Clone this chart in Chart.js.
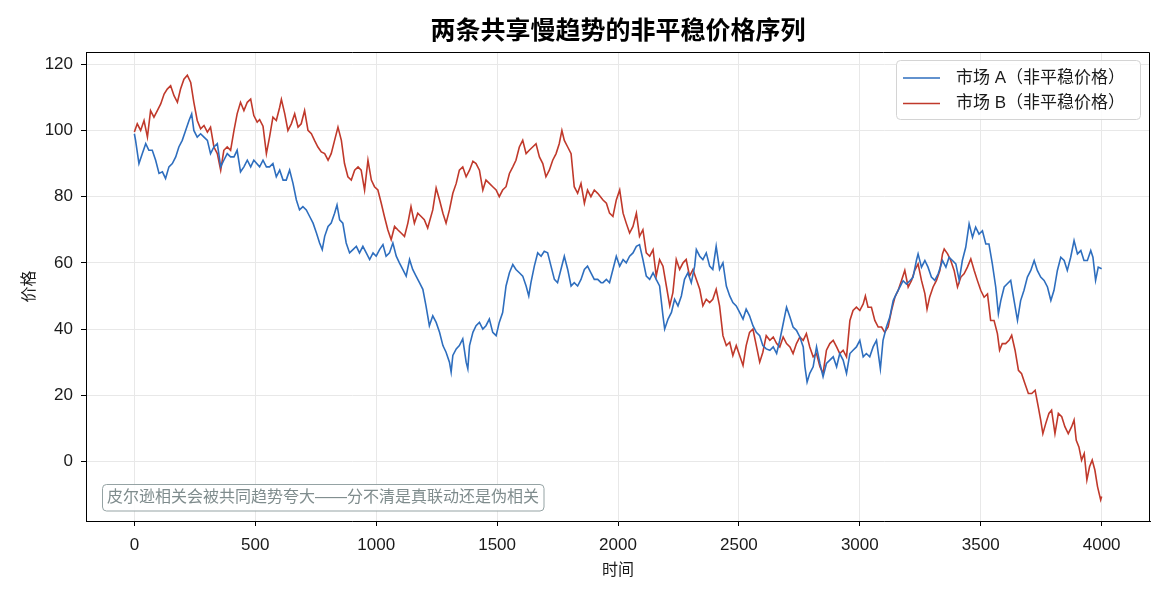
<!DOCTYPE html>
<html lang="zh">
<head>
<meta charset="UTF-8">
<title>两条共享慢趋势的非平稳价格序列</title>
<script src="https://cdn.jsdelivr.net/npm/chart.js"></script>
<style>
    body { margin: 0; background: #fff; }
    #chart { display: block; }
</style>
</head>
<body>
<canvas id="chart" width="1170" height="598"></canvas>
<script>
// 数值从原图读取（约每 14 个时间步一个点）
const timeA = [0,5,19,33,47,60,74,88,102,116,129,143,157,171,184,198,212,226,237,246,260,274,288,302,315,329,343,357,370,384,398,412,425,439,453,467,481,494,
    518,532,546,559,573,587,601,615,628,642,656,670,683,697,711,725,739,753,766,777,787,801,814,828,838,849,862,876,890,904,918,931,945,959,973,987,1000,1014,1028,1041,1055,1069,1083,1096,1110,1124,1138,1151,1165,1179,1193,1206,1220,
    1234,1248,1262,1276,1289,1303,1310,1317,1331,1344,1358,1372,1379,1386,1400,1413,1427,1441,1454,1468,1482,1496,1509,1523,1537,1551,1565,1578,1592,1606,1620,1631,1640,1654,1668,1682,1695,1709,1723,1737,1750,1764,1778,1792,1806,1819,1833,1847,1861,1874,1888,1902,1916,1930,
    1938,1952,1965,1979,1993,2007,2021,2034,2048,2062,2076,2089,2103,2117,2131,2145,2158,2172,2186,2193,2207,2221,2234,2248,2262,2275,2289,2303,2317,2324,2338,2351,2365,2379,2392,2406,2420,2434,2448,2462,2475,2489,2503,2517,2530,2544,2558,2572,2586,2599,2613,
    2628,2642,2656,2669,2683,2697,2711,2724,2738,2752,2766,2773,2782,2793,2807,2821,2835,2848,2862,2876,2890,2904,2917,2931,2945,2959,2972,2986,3000,3014,3027,3041,3055,3069,3085,3096,3110,3124,3138,3151,3165,3179,3193,3207,3220,3234,3241,3255,3269,3282,3296,3310,3324,
    3342,3356,3369,3383,3397,3411,3424,3438,3452,3466,3479,3493,3507,3521,3534,3548,3562,3573,3583,3597,3610,3624,3638,3652,3665,3679,3693,3707,3721,3734,3748,3762,3776,3790,3803,3817,3831,3845,3858,3872,3886,3900,3914,3927,3941,3955,3964,3975,3986,4000];
const priceA = [99,97,90,93,96,94,94,91,87,87.5,85.5,89,90,92,95,97,100,103,105,100,98,99,98,97,93,95,96,89,91,93,92,92,94,87.5,89,91,89,91,
    89,91,89,89,90,86,88,85,85,88,84,79,76,77,76,74,72,69,66,64,68,71,72,75,77.5,73,72,66,63,64,65,63,65,63,61,63,62,64,65.5,62,63,66,62,60,58,56,61,58,56,54,52,47,41,
    44,42,39,35,33,30,27,32,34,35,37,30,28,35,39,41,42,40,41,43,39,38,42,45,53,57,59.5,58,57,56,53,50,54,59,63,62,63.5,63,59,55,54,58,62,58,53,54,53,55,58,59,57,55,55,54,
    54,55,54,58,62,59,61,60,62,63,65,65.5,61,56,55,57,55,53,44,40,43,45,49,47,50,55,57,54,59,64,62,61,63,59,58,65,58,60,53,50,48,47,45,43,46,44,41,39,38,35,34,
    33.6,34.6,32.6,36.6,41.6,46.6,43.6,40.6,39.6,37.6,34.6,28.6,24,26.6,28.6,34.6,29.6,25.6,29.6,30.6,31.6,28.6,32.6,30.6,26.6,32.6,33.6,34.6,36.6,31.6,32.6,31.6,34.6,36.6,28,36.6,40.6,43.6,48.6,50.6,52.6,54.6,53.6,54.6,55.6,60.7,62.7,58.7,60.7,58.7,55.7,54.7,56.7,
    60.7,58.7,61.7,60.7,59.7,54.7,60.7,64.7,71.8,67.7,70.8,68.7,69.7,65.7,65.7,59.7,52.7,44.6,48.6,52.7,53.7,54.7,48.6,42.6,48.6,51.7,55.7,57.7,60.7,57.7,55.7,54.7,52.7,48.6,51.7,57.7,61.7,60.7,57.7,61.7,66.7,62.7,63.7,60.7,60.7,63.7,61.7,54.7,58.7,58.2];

const timeB = [0,12,26,40,54,67,81,95,109,123,136,150,164,178,191,205,219,233,246,260,274,288,302,315,329,343,357,370,384,398,412,425,439,453,467,481,494,508,
    518,532,546,559,573,587,601,608,622,635,649,663,677,690,704,718,732,745,759,773,787,801,814,828,842,856,869,883,897,911,925,938,952,966,980,993,1007,1021,1034,1048,1062,1076,1089,1103,1117,1131,1144,1158,1172,1186,1199,1213,
    1234,1248,1262,1276,1289,1303,1317,1331,1344,1358,1372,1386,1400,1413,1427,1441,1454,1468,1482,1496,1509,1523,1537,1551,1565,1578,1592,1606,1620,1633,1647,1661,1675,1689,1702,1716,1730,1744,1757,1768,1778,1792,1806,1819,1833,1847,1861,1874,1888,1902,1916,
    1938,1952,1965,1979,1993,2007,2021,2034,2048,2062,2076,2089,2103,2117,2131,2145,2158,2172,2186,2200,2214,2227,2241,2255,2269,2282,2296,2310,2324,2338,2351,2365,2379,2392,2406,2420,2434,2448,2462,2475,2489,2503,2517,2530,2544,2558,2572,2586,2599,2613,
    2628,2642,2656,2669,2683,2697,2711,2724,2738,2752,2766,2779,2793,2807,2821,2835,2848,2862,2876,2890,2904,2917,2931,2945,2959,2972,2986,3000,3014,3023,3034,3048,3062,3076,3090,3103,3117,3131,3145,3158,3172,3186,3200,3214,3227,3241,3255,3269,3278,3289,3303,3317,3331,
    3342,3349,3363,3376,3390,3404,3418,3431,3445,3459,3473,3486,3500,3514,3528,3541,3555,3569,3578,3589,3603,3617,3628,3642,3656,3669,3683,3697,3711,3725,3738,3748,3757,3769,3782,3793,3807,3821,3835,3848,3862,3876,3886,3895,3906,3917,3928,3939,3950,3961,3972,3983,3996,4000];
const priceB = [99.5,102,100,103,98,106,104,106,108,111,112.5,113.5,110.5,108.5,112.5,115.5,116.7,114.5,108.5,103,100.5,101.5,99.5,101,95,93,88,94,95,94,100,105,108.5,106,108.5,109.5,104.5,102.5,
    103.3,101.3,93,98,104,103,107,109.4,105,100,102,105,101,102,106,100,99,97,95,93.5,93,91,93,97,101,97,90,86,85,88,89,88,82,91,85,83,82,78,74,70,67,71,70,69,68,72,77,72,75,74,73,70.5,
    76,82.6,79,75,72,76,81,84,88,89,86,88,90.7,90,88,82,85,84,83,82,80,82,83,87,89,91,95,97,93,94,95,96,92,90,86,88,91,93,96,100,97,95,93,83,81,84,78,82,80,82,81,
    79,78,75,74,79,82,75,72,69,71,75,68,70,63,62,64,56,61,59,53,47,51,61,58,60,61,56,58,55,52,47,49,48,49,52,47,38,35,36,32,35,32,29,35,39,40,35,30,33,38,
    36.6,37.6,35.6,34.6,37.6,35.6,34.6,32.6,35.6,37.6,36.6,38.6,34.6,31.6,32.6,28.6,26.6,33.6,35.6,36.6,34.6,32.6,33.6,31.6,42.6,45.6,46.6,45.6,47.6,50,46.6,46.6,42.6,40.6,40.6,39,40.6,45.6,49.6,51.6,54.6,57.7,52.7,54.7,57.7,59.7,54.7,50.7,46,49.7,52.7,54.7,57.7,
    62.7,64.2,62.7,60.7,57.7,52.7,55.7,56.7,58.7,61.2,57.7,54.7,51.7,49.6,50.6,42.6,42.6,38.6,33.6,35.6,35.6,36.6,38.1,33.6,27.5,26.5,23.5,20.5,20.5,21.5,16.5,12.5,8.4,11.5,14.5,15.5,8.4,14.5,13.5,10.5,8.4,10.5,12.5,6.4,4.4,0.4,2.4,-5.6,-1.6,0.4,-2.6,-7.6,-11.6,-10.6];

const xTicks = [0, 500, 1000, 1500, 2000, 2500, 3000, 3500, 4000];
const yTicks = [0, 20, 40, 60, 80, 100, 120];
const seriesNames = ['市场 A（非平稳价格）', '市场 B（非平稳价格）'];
const note = '皮尔逊相关会被共同趋势夸大——分不清是真联动还是伪相关';

const BLUE = '#2e6ebe';
const RED = '#c0392b';
const FONT = '"Liberation Sans", "Noto Sans CJK SC", sans-serif';

Chart.defaults.font.family = FONT;
Chart.defaults.color = '#1a1a1a';

function roundRect(ctx, x, y, w, h, r) {
    ctx.beginPath();
    ctx.moveTo(x + r, y);
    ctx.lineTo(x + w - r, y);
    ctx.arcTo(x + w, y, x + w, y + r, r);
    ctx.lineTo(x + w, y + h - r);
    ctx.arcTo(x + w, y + h, x + w - r, y + h, r);
    ctx.lineTo(x + r, y + h);
    ctx.arcTo(x, y + h, x, y + h - r, r);
    ctx.lineTo(x, y + r);
    ctx.arcTo(x, y, x + r, y, r);
    ctx.closePath();
}

// 上/右边框、图例、注释框
const extras = {
    id: 'extras',
    afterDraw(chart) {
        const ctx = chart.ctx;
        const a = chart.chartArea;
        ctx.save();
        ctx.strokeStyle = '#000';
        ctx.lineWidth = 1;
        ctx.beginPath();
        ctx.moveTo(Math.round(a.left) + 0.5, Math.round(a.top) + 0.5);
        ctx.lineTo(Math.round(a.right) - 0.5, Math.round(a.top) + 0.5);
        ctx.lineTo(Math.round(a.right) - 0.5, Math.round(a.bottom) + 0.5);
        ctx.stroke();

        // legend
        roundRect(ctx, 896.5, 60.5, 244, 59, 4);
        ctx.fillStyle = 'rgba(255,255,255,0.85)';
        ctx.fill();
        ctx.strokeStyle = '#d4d4d4';
        ctx.stroke();
        ctx.font = '17px ' + FONT;
        ctx.textBaseline = 'middle';
        ctx.textAlign = 'left';
        chart.data.datasets.forEach((ds, i) => {
            const y = 78 + i * 25.5;
            ctx.strokeStyle = ds.borderColor;
            ctx.lineWidth = 1.5;
            ctx.beginPath();
            ctx.moveTo(903, y);
            ctx.lineTo(940, y);
            ctx.stroke();
            ctx.fillStyle = '#1a1a1a';
            ctx.fillText(ds.label, 956, y);
        });

        // note box
        roundRect(ctx, 102.5, 484.5, 441.5, 26.5, 4);
        ctx.fillStyle = 'rgba(255,255,255,0.85)';
        ctx.fill();
        ctx.strokeStyle = '#95a3a4';
        ctx.lineWidth = 1;
        ctx.stroke();
        ctx.fillStyle = '#7f8c8d';
        ctx.font = '16px ' + FONT;
        ctx.fillText(note, 107, 498);
        ctx.restore();
    }
};

new Chart(document.getElementById('chart'), {
    type: 'line',
    data: {
        datasets: [
            {
                label: seriesNames[0],
                data: timeA.map((t, i) => ({ x: t, y: priceA[i] })),
                borderColor: BLUE,
                borderWidth: 1.6,
                pointRadius: 0,
                tension: 0
            },
            {
                label: seriesNames[1],
                data: timeB.map((t, i) => ({ x: t, y: priceB[i] })),
                borderColor: RED,
                borderWidth: 1.6,
                pointRadius: 0,
                tension: 0
            }
        ]
    },
    options: {
        responsive: false,
        animation: false,
        layout: { padding: { left: 0, right: 20, top: 0, bottom: 0 } },
        plugins: {
            legend: { display: false },
            tooltip: { enabled: false },
            title: {
                display: true,
                text: '两条共享慢趋势的非平稳价格序列',
                fullSize: false,
                color: '#000',
                font: { size: 25, weight: 'bold' },
                padding: { top: 17, bottom: 5 }
            }
        },
        scales: {
            x: {
                type: 'linear',
                min: -200,
                max: 4200,
                afterBuildTicks: s => { s.ticks = xTicks.map(v => ({ value: v })); },
                afterFit: s => { s.height = 77; },
                grid: { color: '#e8e8e8', tickColor: '#000', tickLength: 5 },
                border: { color: '#000', width: 1 },
                ticks: { padding: 9, maxRotation: 0, font: { size: 17 }, color: '#1a1a1a', callback: v => String(v) },
                title: { display: true, text: '时间', font: { size: 16 }, color: '#1a1a1a', padding: { top: 0, bottom: 18 } }
            },
            y: {
                min: -18,
                max: 123.7,
                afterBuildTicks: s => { s.ticks = yTicks.map(v => ({ value: v })); },
                afterFit: s => { s.width = 86; },
                grid: { color: '#e8e8e8', tickColor: '#000', tickLength: 5 },
                border: { color: '#000', width: 1 },
                ticks: { padding: 8, font: { size: 17 }, color: '#1a1a1a', callback: v => String(v) },
                title: { display: true, text: '价格', font: { size: 16 }, color: '#1a1a1a', padding: { top: 20, bottom: 0 } }
            }
        }
    },
    plugins: [extras]
});
</script>
</body>
</html>
